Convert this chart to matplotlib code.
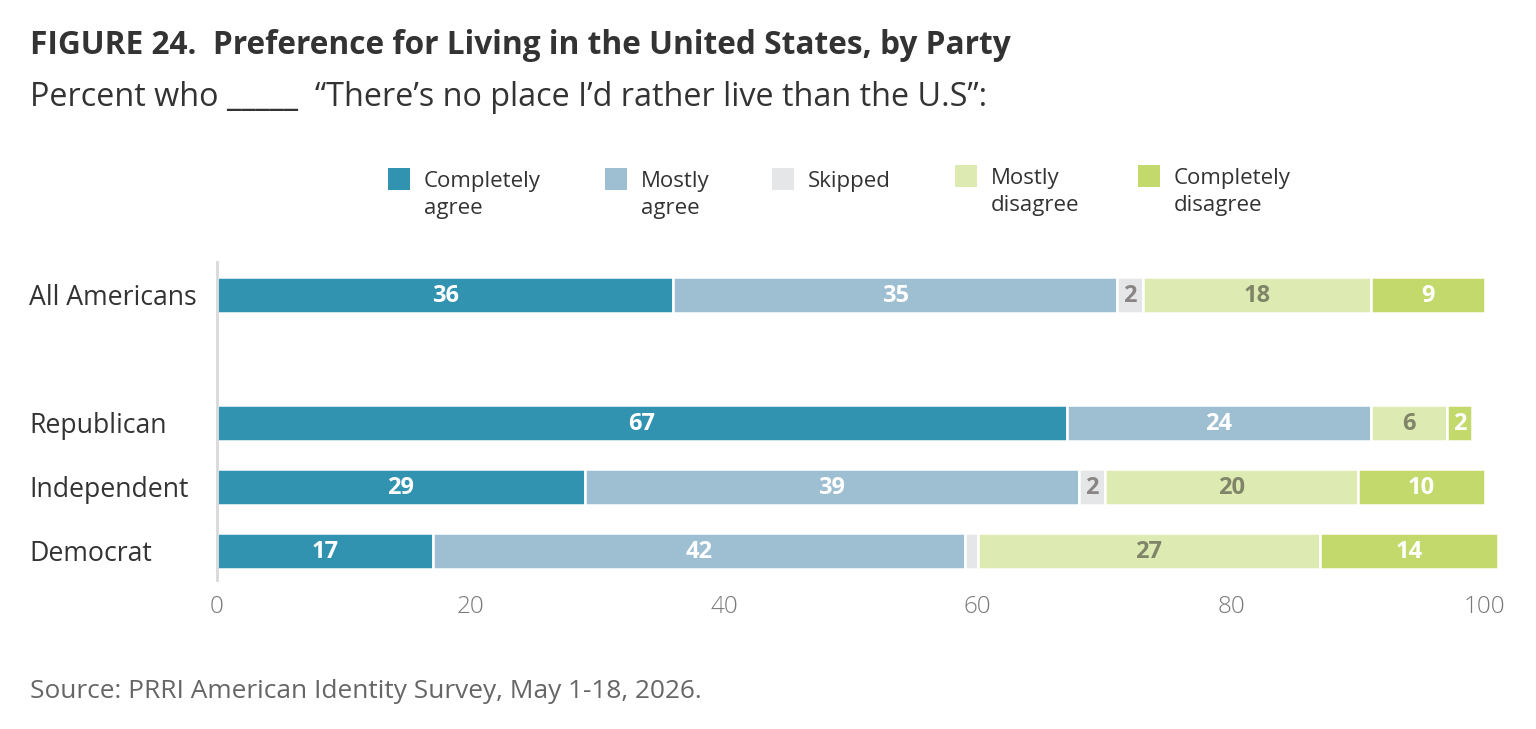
import matplotlib
matplotlib.use("Agg")
import matplotlib.pyplot as plt
from matplotlib.patches import Rectangle

plt.rcParams['font.family'] = ['Open Sans', 'DejaVu Sans']

categories = ["All Americans", "Republican", "Independent", "Democrat"]
positions = [0, 2, 3, 4]
series_names = ["Completely\nagree", "Mostly\nagree", "Skipped", "Mostly\ndisagree", "Completely\ndisagree"]
completely_agree = [36, 67, 29, 17]
mostly_agree = [35, 24, 39, 42]
skipped = [2, 0, 2, 1]
mostly_disagree = [18, 6, 20, 27]
completely_disagree = [9, 2, 10, 14]
xticks = [0, 20, 40, 60, 80, 100]

series = [completely_agree, mostly_agree, skipped, mostly_disagree, completely_disagree]
colors = ["#3293b1", "#9ebfd1", "#e5e6e8", "#ddebb2", "#c3d96b"]
label_colors = ["white", "white", "#8a8585", "#80856a", "white"]

W, H = 1536, 729
fig = plt.figure(figsize=(W/100, H/100), dpi=100)
ax = fig.add_axes([217/W, 1-580/H, (1485-217)/W, (580-262)/H])

left = [0]*len(categories)
for vals, col, lc in zip(series, colors, label_colors):
    bars = ax.barh(positions, vals, left=left, height=0.5625, color=col,
                   edgecolor="white", linewidth=1.8)
    for b in bars:
        b.set_clip_on(False)
    for p, v, l in zip(positions, vals, left):
        if v >= 2:
            ax.text(l + v/2, p + 0.02, str(v), ha="center", va="center",
                    color=lc, fontsize=17, fontweight="bold")
    left = [a+b for a, b in zip(left, vals)]

ax.set_xlim(0, 100)
ax.set_ylim(4.453, -0.516)
ax.set_yticks(positions)
ax.set_yticklabels([])
for p, c in zip(positions, categories):
    ypix = 298 + 64*p
    fig.text(29/W, 1-ypix/H, c, ha="left", va="center", fontsize=19.2, color="#333333")
ax.tick_params(axis="y", length=0)
ax.set_xticks(xticks)
ax.set_xticklabels([str(t) for t in xticks], fontsize=17.5, color="#7a7a7a", fontweight="light")
ax.tick_params(axis="x", length=0, pad=11)
for s in ["top", "right", "bottom"]:
    ax.spines[s].set_visible(False)
ax.spines["left"].set_color("#d9d9d9")
ax.spines["left"].set_linewidth(2)

# Title and subtitle
fig.text(30/W, 1-46/H, "FIGURE 24.  Preference for Living in the United States, by Party",
         ha="left", va="center", fontsize=22.8, fontweight="bold", color="#333333")
fig.text(30/W, 1-98/H, "Percent who _____  \u201cThere\u2019s no place I\u2019d rather live than the U.S\u201d:",
         ha="left", va="center", fontsize=23.3, color="#333333")

# Legend
leg_x = [388, 605, 772, 955, 1138]
leg_y = [179, 179, 179, 176, 176]
for x, y, col, name in zip(leg_x, leg_y, colors, series_names):
    fig.patches.append(Rectangle((x/W, 1-(y+11)/H), 22/W, 22/H, transform=fig.transFigure,
                                 facecolor=col, edgecolor="none"))
    fig.text((x+36)/W, 1-(y-8)/H, name, ha="left", va="top", fontsize=16,
             color="#333333", linespacing=1.35)

fig.text(30/W, 1-692/H, "Source: PRRI American Identity Survey, May 1-18, 2026.",
         ha="left", va="center", fontsize=18.9, color="#666666")

fig.savefig("out.png", dpi=100, facecolor="white")
